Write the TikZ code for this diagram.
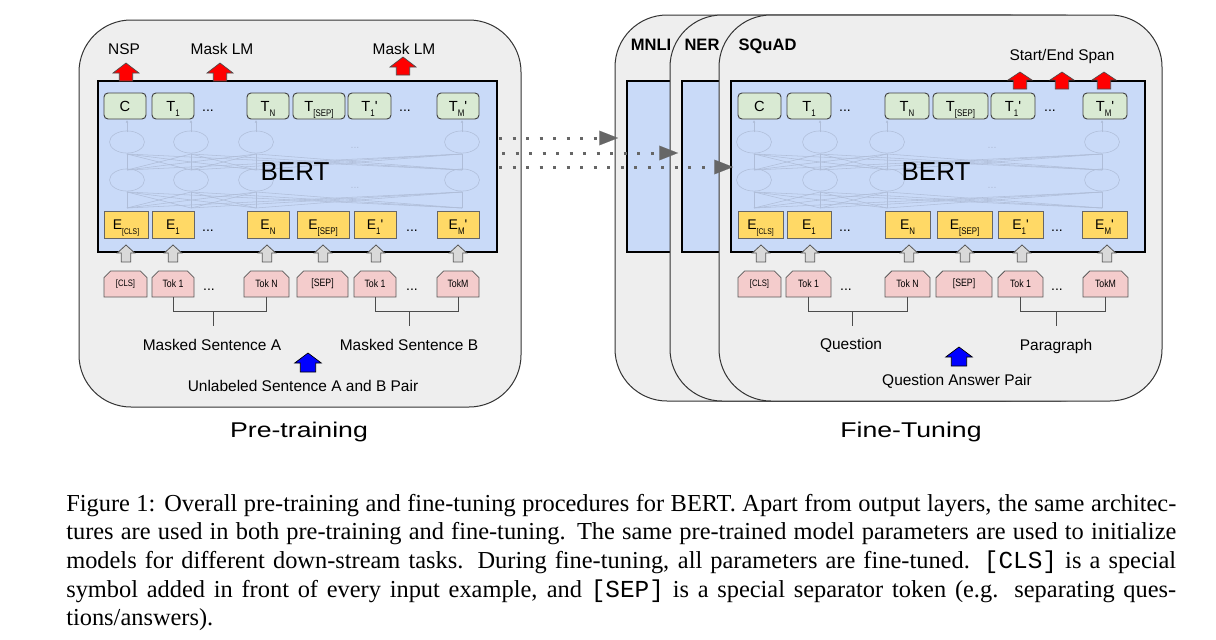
\documentclass[tikz,border=0pt]{standalone}
\usepackage{fontspec}
\usepackage{graphicx}
\setmainfont{Liberation Serif}
\setmonofont{Liberation Mono}
\newfontfamily\arial{Liberation Sans}
\newfontfamily\narrowsf{Liberation Sans}[FakeStretch=0.82]
\usetikzlibrary{shapes.misc,arrows.meta}
\definecolor{panelbg}{HTML}{EEEEEE}
\definecolor{bertblue}{HTML}{C9DAF8}
\definecolor{tgreen}{HTML}{D9EAD3}
\definecolor{eyellow}{HTML}{FFD966}
\definecolor{tokpink}{HTML}{F4CCCC}
\definecolor{arrgray}{HTML}{D9D9D9}
\definecolor{netc}{HTML}{AFBDD8}
\newcommand\fsz[1]{\fontsize{#1}{#1}\selectfont}
\newcommand\sbx[1]{\raisebox{-3.5pt}{\narrowsf\fsz{7.2pt}#1}}
\newcommand\sbxs[1]{\raisebox{-3.5pt}{\narrowsf\fsz{6.2pt}#1}}
\newcommand\prm{\textquotesingle}
\newcommand\blockup[7]{%
  \draw[#1] (#2-#5,#4) -- (#2-#5,#3+#7) -- (#2-#6,#3+#7) -- (#2,#3) -- (#2+#6,#3+#7) -- (#2+#5,#3+#7) -- (#2+#5,#4) -- cycle;}
\newcommand\bertnet[6]{%
  \foreach \xa in {#1,#2,#3,#4}{
    \draw[netl] (\xa,142) ellipse [x radius=13.1pt, y radius=8.3pt];
    \draw[netl] (\xa,180) ellipse [x radius=13.1pt, y radius=8.3pt];
    \draw[netl,-{Latex[length=2pt,width=2pt]}] (\xa,132) -- (\xa,120);
    \foreach \xb in {#1,#2,#3,#4}{
      \draw[netl] (\xa,170) -- (\xb,154);
      \draw[netl] (\xa,208) -- (\xb,192);
    }
  }
  \node[netdots] (#6n1) at (#5,148) {...};
  \node[netdots] (#6n2) at (#5,188) {...};
}
\tikzset{
  wd/.style={minimum width=#1*0.75pt},
  ht/.style={minimum height=#1*0.75pt},
  panel/.style={fill=panelbg, draw=black!80, line width=0.75pt, rounded corners=39pt},
  bertbox/.style={fill=bertblue, draw=black, line width=1.5pt, inner sep=0pt},
  tbox/.style={draw=black!75, fill=tgreen, rounded corners=3pt, ht=26, inner sep=0pt, line width=0.7pt,
    text height=8pt, text depth=0pt, font={\arial\fsz{11pt}}},
  ebox/.style={draw=black!60, fill=eyellow, ht=27, inner sep=0pt, line width=0.6pt,
    text height=7.6pt, text depth=0pt, font={\arial\fsz{10.5pt}}},
  tokbox/.style={chamfered rectangle, chamfered rectangle corners={north west,north east},
    chamfered rectangle xsep=2.5pt, chamfered rectangle ysep=2.5pt,
    draw=black!65, fill=tokpink, ht=26, inner sep=0pt, line width=0.6pt, font={\narrowsf\fsz{8pt}}},
  dots/.style={anchor=base, inner sep=0pt, font={\arial\fsz{10.5pt}}},
  netl/.style={draw=netc, line width=0.4pt},
  netdots/.style={inner sep=0pt, text=netc, font={\arial\fsz{8pt}}},
  lbl/.style={anchor=base, inner sep=0pt, font={\arial\fsz{11.6pt}}},
  ttl/.style={anchor=base, inner sep=0pt, font={\arial\bfseries\fsz{12.4pt}}},
  bertlbl/.style={anchor=base, inner sep=0pt, font={\arial\fsz{19.5pt}}},
  bigttl/.style={anchor=base, inner sep=0pt, font={\arial\fsz{16pt}}},
  brk/.style={draw=black!70, line width=0.7pt},
  redarr/.style={fill=red, draw=black!70, line width=0.5pt},
  grayarr/.style={fill=arrgray, draw=black!65, line width=0.6pt},
  bluearr/.style={fill=blue, draw=black, line width=0.5pt},
  dotarr/.style={draw=black!60, line width=2.25pt, dash pattern=on 2.25pt off 7.9pt,
    -{Triangle[length=14pt,width=11pt,line width=0.1pt]}},
}
\begin{document}
\begin{tikzpicture}[x=0.75pt,y=-0.75pt]
\useasboundingbox (0,0) rectangle (1216,639);

% ================= LEFT: PRE-TRAINING =================
\draw[panel] (79,20) rectangle (521,407);
\node[bertbox, wd=399, ht=171] (lbert) at (297.5,166.5) {};
\bertnet{127}{191}{256}{462}{355}{lnet}
\node[bertlbl] (lbertt) at (295,180) {BERT};

\node[tbox,wd=42] (lC)   at (125,106) {C};
\node[tbox,wd=42] (lT1)  at (173,106) {T\sbx{1}};
\node[dots]       (ld1)  at (208,111) {...};
\node[tbox,wd=42] (lTN)  at (268,106) {T\sbx{N}};
\node[tbox,wd=52] (lTS)  at (319,106) {T\sbx{[SEP]}};
\node[tbox,wd=43] (lT1p) at (369.5,106) {T\sbx{1}\prm};
\node[dots]       (ld2)  at (405,111) {...};
\node[tbox,wd=42] (lTM)  at (458,106) {T\sbx{M}\prm};

\node[ebox,wd=44] (lEC)  at (126,224.5) {E\sbxs{[CLS]}};
\node[ebox,wd=42] (lE1)  at (173,224.5) {E\sbx{1}};
\node[dots]       (ld3)  at (208,231) {...};
\node[ebox,wd=42] (lEN)  at (268,224.5) {E\sbx{N}};
\node[ebox,wd=52] (lES)  at (323,224.5) {E\sbx{[SEP]}};
\node[ebox,wd=42] (lE1p) at (375,224.5) {E\sbx{1}\prm};
\node[dots]       (ld4)  at (412,231) {...};
\node[ebox,wd=42] (lEM)  at (458,224.5) {E\sbx{M}\prm};

\blockup{redarr}{126}{63}{81}{6.7}{13}{10}
\blockup{redarr}{220}{63}{81}{6.7}{13}{10}
\blockup{redarr}{403}{57}{75}{6.7}{13}{10}
\node[lbl] (lnsp)  at (124,54) {NSP};
\node[lbl] (lmlm1) at (222,54) {Mask LM};
\node[lbl] (lmlm2) at (404,54) {Mask LM};

\foreach \xg in {126,173,267,323,376,458}{\blockup{grayarr}{\xg}{245}{262}{4.7}{8.7}{8}}

\node[tokbox,wd=43,font={\narrowsf\fsz{7pt}}] (lKC) at (125.5,284) {[CLS]};
\node[tokbox,wd=42] (lK1)  at (173,284) {Tok 1};
\node[dots]         (ld5)  at (209,290) {...};
\node[tokbox,wd=45] (lKN)  at (266.5,284) {Tok N};
\node[tokbox,wd=51] (lKS)  at (322.5,284) {[SEP]};
\node[tokbox,wd=42] (lK1p) at (375,284) {Tok 1};
\node[dots]         (ld6)  at (412,290) {...};
\node[tokbox,wd=42] (lKM)  at (458,284) {TokM};

\coordinate (lbA) at (213,311); \coordinate (lbA2) at (213,326);
\coordinate (lbB) at (409,311); \coordinate (lbB2) at (409,326);
\draw[brk] (lK1.south) -- ++(0,14) -| (lKN.south);
\draw[brk] (lbA) -- (lbA2);
\draw[brk] (lK1p.south) -- ++(0,14) -| (lKM.south);
\draw[brk] (lbB) -- (lbB2);

\node[lbl] (lmsa) at (212,350) {Masked Sentence A};
\node[lbl] (lmsb) at (409,350) {Masked Sentence B};
\blockup{bluearr}{308}{353}{372}{7.7}{13.3}{10}
\node[lbl] (lpair) at (303,391) {Unlabeled Sentence A and B Pair};
\node[bigttl] (lptr) at (299,437) {\scalebox{1.25}[1]{Pre-training}};

% ================= RIGHT: FINE-TUNING =================
\draw[panel] (615,15) rectangle (1058,401);
\node[bertbox, wd=414, ht=171] (mbert) at (834,166.5) {};
\node[ttl] (rmnli) at (651,50) {MNLI};
\draw[panel] (670,15) rectangle (1113,401);
\node[bertbox, wd=414, ht=171] (nbert) at (889,166.5) {};
\node[ttl] (rner) at (702,50) {NER};
\draw[panel] (719,15) rectangle (1162,401);
\node[bertbox, wd=414, ht=171] (rbert) at (938,166.5) {};
\node[ttl] (rsquad) at (767.5,50) {SQuAD};

\bertnet{754}{820}{887}{1102}{992}{rnet}
\node[bertlbl] (rbertt) at (936,180) {BERT};

\node[tbox,wd=43] (rC)   at (759.5,106) {C};
\node[tbox,wd=44] (rT1)  at (809,106) {T\sbx{1}};
\node[dots]       (rd1)  at (845,111) {...};
\node[tbox,wd=44] (rTN)  at (907,106) {T\sbx{N}};
\node[tbox,wd=55] (rTS)  at (960.5,106) {T\sbx{[SEP]}};
\node[tbox,wd=44] (rT1p) at (1013,106) {T\sbx{1}\prm};
\node[dots]       (rd2)  at (1050,111) {...};
\node[tbox,wd=44] (rTM)  at (1105,106) {T\sbx{M}\prm};

\node[ebox,wd=45] (rEC)  at (760.5,224.5) {E\sbxs{[CLS]}};
\node[ebox,wd=44] (rE1)  at (809,224.5) {E\sbx{1}};
\node[dots]       (rd3)  at (845,231) {...};
\node[ebox,wd=45] (rEN)  at (907.5,224.5) {E\sbx{N}};
\node[ebox,wd=55] (rES)  at (964.5,224.5) {E\sbx{[SEP]}};
\node[ebox,wd=45] (rE1p) at (1020.5,224.5) {E\sbx{1}\prm};
\node[dots]       (rd4)  at (1057,231) {...};
\node[ebox,wd=45] (rEM)  at (1104.5,224.5) {E\sbx{M}\prm};

\blockup{redarr}{1020}{72}{89}{6.7}{12}{8}
\blockup{redarr}{1062}{72}{89}{6.7}{12}{8}
\blockup{redarr}{1104}{72}{89}{6.7}{12}{8}
\node[lbl] (rspan) at (1062,60) {Start/End Span};

\foreach \xg in {761,810,909,965,1022,1107}{\blockup{grayarr}{\xg}{245}{262}{4.7}{8.7}{8}}

\node[tokbox,wd=43,font={\narrowsf\fsz{7pt}}] (rKC) at (759.5,284) {[CLS]};
\node[tokbox,wd=45] (rK1)  at (808.5,284) {Tok 1};
\node[dots]         (rd5)  at (846,290) {...};
\node[tokbox,wd=45] (rKN)  at (907.5,284) {Tok N};
\node[tokbox,wd=56] (rKS)  at (964,284) {[SEP]};
\node[tokbox,wd=45] (rK1p) at (1020.5,284) {Tok 1};
\node[dots]         (rd6)  at (1057,290) {...};
\node[tokbox,wd=45] (rKM)  at (1105.5,284) {TokM};

\coordinate (rbA) at (852,311); \coordinate (rbA2) at (852,326);
\coordinate (rbB) at (1056,311); \coordinate (rbB2) at (1056,326);
\draw[brk] (rK1.south) -- ++(0,14) -| (rKN.south);
\draw[brk] (rbA) -- (rbA2);
\draw[brk] (rK1p.south) -- ++(0,14) -| (rKM.south);
\draw[brk] (rbB) -- (rbB2);

\node[lbl] (rq) at (851,349) {Question};
\node[lbl] (rp) at (1056,350) {Paragraph};
\blockup{bluearr}{959}{347}{366}{7.7}{13.3}{10}
\node[lbl] (rqap) at (957,385) {Question Answer Pair};
\node[bigttl] (rft) at (911,437) {\scalebox{1.25}[1]{Fine-Tuning}};

% ================= dotted transfer arrows =================
\coordinate (s1) at (499,138); \coordinate (e1) at (618,138);
\coordinate (s2) at (502,153); \coordinate (e2) at (678,153);
\coordinate (s3) at (499,167); \coordinate (e3) at (733,167);
\draw[dotarr] (s1) -- (e1);
\draw[dotarr] (s2) -- (e2);
\draw[dotarr] (s3) -- (e3);

% ================= caption =================
\node[anchor=north west, inner sep=0pt, text width=832.5pt, align=justify,
  font={\fontsize{18.3pt}{21.4pt}\selectfont}] (cap) at (66,494)
{Figure 1: Overall pre-training and fine-tuning procedures for BERT. Apart from output layers, the same architec-\linebreak
tures are used in both pre-training and fine-tuning. The same pre-trained model parameters are used to initialize\linebreak
models for different down-stream tasks. During fine-tuning, all parameters are fine-tuned. \texttt{[CLS]} is a special\linebreak
symbol added in front of every input example, and \texttt{[SEP]} is a special separator token (e.g. separating ques-\linebreak
tions/answers).};
\end{tikzpicture}
\end{document}
